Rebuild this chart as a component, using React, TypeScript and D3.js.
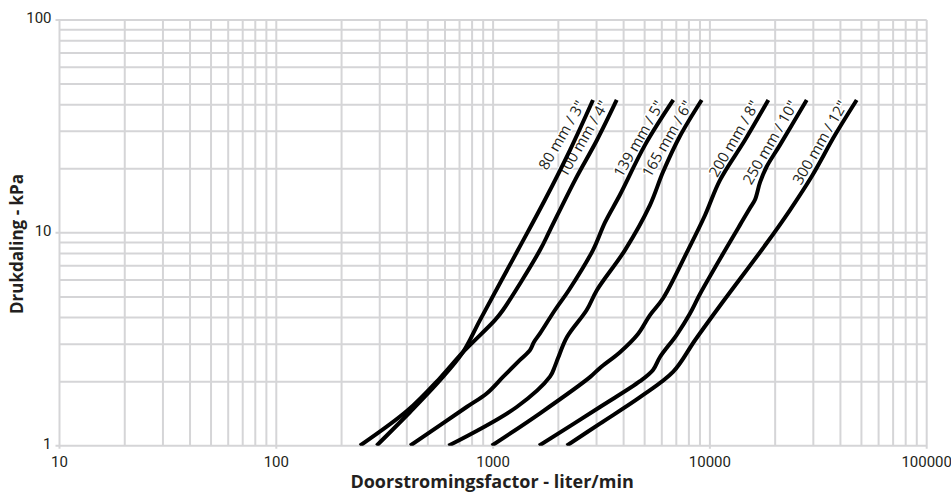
import * as d3 from "d3";

// flow (liter/min) and pressure drop (kPa), one pair per pipe size
const flow80 = [290, 414, 569, 726, 870, 1302, 1735, 2263, 2889];
const dp80 = [1, 1.44, 2.03, 2.75, 3.89, 8.3, 14.3, 24.5, 42.1];

const flow100 = [243, 405, 569, 726, 1020, 1111, 1646, 1830, 2387, 3015, 3717];
const dp100 = [1, 1.47, 2.08, 2.75, 3.89, 4.34, 8.3, 10.3, 17.7, 27.3, 42.1];

const flow139 = [414, 755, 934, 1114, 1331, 1480, 1544, 1646, 1930, 2239, 2889, 3282, 3848, 5024, 6780];
const dp139 = [1, 1.52, 1.76, 2.11, 2.53, 2.81, 3.07, 3.37, 4.34, 5.39, 8.3, 11.2, 15.1, 25.9, 42.1];

const flow165 = [622, 1285, 1830, 1930, 1993, 2192, 2702, 3015, 4059, 5292, 6076, 7279, 9167];
const dp165 = [1, 1.52, 2.11, 2.37, 2.58, 3.24, 4.34, 5.39, 8.3, 13.5, 19.3, 28.5, 42.1];

const flow200 = [985, 1646, 2798, 3112, 3848, 4660, 5292, 6095, 7925, 9494, 11131, 14520, 18600];
const dp200 = [1, 1.42, 2.1, 2.32, 2.75, 3.35, 4.11, 4.94, 8.3, 12.1, 17.7, 27.3, 42.1];

const flow250 = [1628, 3112, 4760, 5465, 5886, 7029, 8094, 9001, 11990, 13770, 15310, 16140, 17040, 18290, 21060, 27960];
const dp250 = [1, 1.52, 2.01, 2.27, 2.61, 3.32, 4.18, 5.16, 8.58, 10.9, 13.1, 14.3, 17.3, 20.5, 25.9, 42.1];

const flow300 = [2185, 3112, 4760, 6760, 8537, 11370, 18150, 23410, 29570, 37760, 47540];
const dp300 = [1, 1.27, 1.69, 2.22, 3.13, 4.68, 8.86, 12.8, 18.5, 28.8, 42.1];

const sizeLabels = ['80 mm / 3"', '100 mm / 4"', '139 mm / 5"', '165 mm / 6"', '200 mm / 8"', '250 mm / 10"', '300 mm / 12"'];

const xTickLabels = [10, 100, 1000, 10000, 100000];
const yTickLabels = [1, 10, 100];

const xTitle = "Doorstromingsfactor - liter/min";
const yTitle = "Drukdaling - kPa";

const GRID = "#d5d5d7";
const TEXT = "#231f20";
const FONT = "Roboto, 'Open Sans', sans-serif";
const TITLE_FONT = "'Open Sans', Roboto, sans-serif";
const LABEL_KPA = 39;
const LABEL_ANGLE = -60;

export default function App() {
  const width = 951;
  const height = 497;
  const margin = { top: 20, right: 24.3, bottom: 51.3, left: 59.5 };
  const iw = width - margin.left - margin.right;
  const ih = height - margin.top - margin.bottom;

  const x = d3.scaleLog().domain([10, 100000]).range([0, iw]);
  const y = d3.scaleLog().domain([1, 100]).range([ih, 0]);

  const series = [
    [flow80, dp80],
    [flow100, dp100],
    [flow139, dp139],
    [flow165, dp165],
    [flow200, dp200],
    [flow250, dp250],
    [flow300, dp300],
  ].map(([f, p], i) => ({
    label: sizeLabels[i],
    points: f.map((v, j) => [v, p[j]] as [number, number]),
  }));

  const line = d3
    .line<[number, number]>()
    .x((d) => x(d[0]))
    .y((d) => y(d[1]))
    .curve(d3.curveCatmullRom.alpha(0.5));

  // point on a curve where it reaches the label pressure (log interpolation)
  const labelAt = (pts: [number, number][]) => {
    for (let i = 1; i < pts.length; i++) {
      const [f0, p0] = pts[i - 1];
      const [f1, p1] = pts[i];
      if (p1 >= LABEL_KPA) {
        const t = (Math.log(LABEL_KPA) - Math.log(p0)) / (Math.log(p1) - Math.log(p0));
        const f = Math.exp(Math.log(f0) + t * (Math.log(f1) - Math.log(f0)));
        return [x(f), y(LABEL_KPA)];
      }
    }
    const last = pts[pts.length - 1];
    return [x(last[0]), y(last[1])];
  };

  const rad = (LABEL_ANGLE * Math.PI) / 180;
  const up = [Math.sin(rad), -Math.cos(rad)]; // glyph "up" direction after rotation
  const offset = 5;

  return (
    <svg
      width={width}
      height={height}
      style={{ position: "absolute", left: 0, top: 0, background: "#fff" }}
    >
      <defs>
        <clipPath id="plotclip">
          <rect x={0} y={-20} width={iw + 10} height={ih + 20} />
        </clipPath>
      </defs>
      <g transform={`translate(${margin.left},${margin.top})`}>
        {/* grid */}
        {x.ticks().map((t) => (
          <line
            key={"gx" + t}
            x1={x(t)}
            x2={x(t)}
            y1={0}
            y2={xTickLabels.includes(t) ? ih + 3 : ih}
            stroke={GRID}
            strokeWidth={2}
          />
        ))}
        {y.ticks().map((t) => (
          <line
            key={"gy" + t}
            x1={yTickLabels.includes(t) ? -4 : 0}
            x2={iw}
            y1={y(t)}
            y2={y(t)}
            stroke={GRID}
            strokeWidth={2}
          />
        ))}

        {/* tick labels */}
        {xTickLabels.map((t) => (
          <text
            key={"tx" + t}
            x={x(t)}
            y={ih + 21}
            textAnchor="middle"
            fontFamily={FONT}
            fontSize={15}
            fill={TEXT}
          >
            {t}
          </text>
        ))}
        {yTickLabels.map((t) => (
          <text
            key={"ty" + t}
            x={-8}
            y={y(t) + 3}
            textAnchor="end"
            fontFamily={FONT}
            fontSize={15}
            fill={TEXT}
          >
            {t}
          </text>
        ))}

        {/* curve labels */}
        {series.map((s) => {
          const [lx, ly] = labelAt(s.points);
          const tx = lx + up[0] * offset;
          const ty = ly + up[1] * offset;
          return (
            <text
              key={"lab" + s.label}
              transform={`translate(${tx},${ty}) rotate(${LABEL_ANGLE})`}
              textAnchor="end"
              fontFamily={TITLE_FONT}
              fontSize={15}
              fill={TEXT}
              stroke="#fff"
              strokeWidth={3}
              paintOrder="stroke"
            >
              {s.label}
            </text>
          );
        })}

        {/* curves */}
        <g clipPath="url(#plotclip)">
          {series.map((s) => (
            <path
              key={"c" + s.label}
              d={line(s.points) || ""}
              fill="none"
              stroke="#000"
              strokeWidth={4}
              strokeLinejoin="round"
            />
          ))}
        </g>

        {/* axis titles */}
        <text
          x={iw / 2 - 1}
          y={ih + 42.5}
          textAnchor="middle"
          fontFamily={TITLE_FONT}
          fontWeight="bold"
          fontSize={18}
          fill={TEXT}
        >
          {xTitle}
        </text>
        <text
          transform={`translate(${23 - margin.left},${224}) rotate(-90)`}
          textAnchor="middle"
          fontFamily={TITLE_FONT}
          fontWeight="bold"
          fontSize={17}
          fill={TEXT}
        >
          {yTitle}
        </text>
      </g>
    </svg>
  );
}
